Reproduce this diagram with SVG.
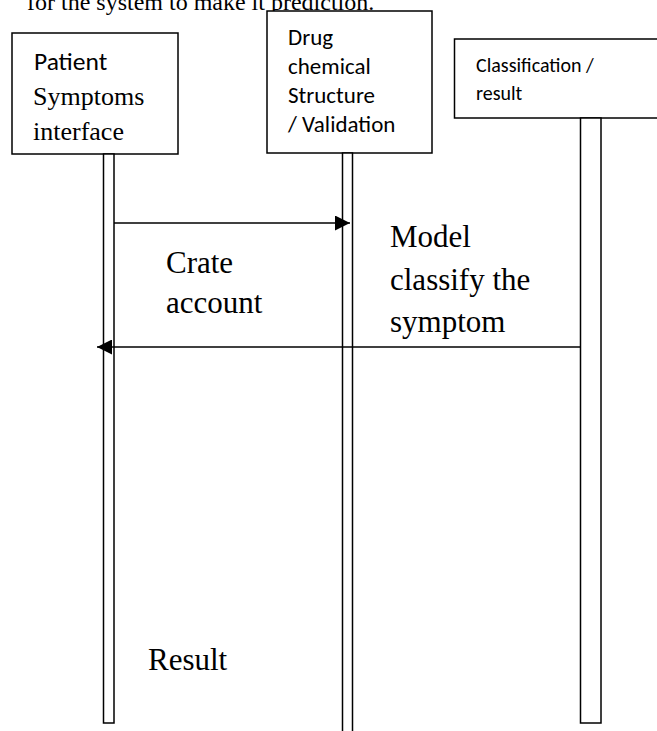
<svg xmlns="http://www.w3.org/2000/svg" width="657" height="731" viewBox="0 0 657 731">
<style>
.box{fill:#fff;stroke:#000;stroke-width:1.5}
.life{fill:#fff;stroke:#000;stroke-width:1.5}
.serif{font-family:"Liberation Serif","Times New Roman",serif;fill:#000}
.sans{font-family:Carlito,Lato,"Liberation Sans",sans-serif;fill:#000}
.msg{stroke:#000;stroke-width:1.5;fill:none}
</style>
<defs>
<marker id="ah" markerWidth="15" markerHeight="15" refX="15" refY="7.5" orient="auto" markerUnits="userSpaceOnUse">
<path d="M0,0 L15,7.5 L0,15 Z" fill="#000"/>
</marker>
</defs>
<rect width="657" height="731" fill="#fff"/>
<text class="serif" x="27" y="10" font-size="24">for the system to make it prediction.</text>
<g id="patient">
<rect class="box" x="12" y="33" width="166" height="121"/>
<text class="sans" x="34" y="70" font-size="25.5">Patient</text>
<text class="serif" x="33" y="105" font-size="26">Symptoms</text>
<text class="serif" x="33" y="140" font-size="26">interface</text>
<rect class="life" x="103.5" y="154" width="10.5" height="569"/>
</g>
<g id="drug">
<rect class="box" x="267" y="11" width="165" height="142"/>
<text class="sans" x="288" y="45" font-size="23">Drug</text>
<text class="sans" x="288" y="74" font-size="23">chemical</text>
<text class="sans" x="288" y="103" font-size="23">Structure</text>
<text class="sans" x="288" y="132" font-size="23">/ Validation</text>
<path class="life" d="M342.5,731 V153 H352.5 V731"/>
</g>
<g id="classification">
<rect class="box" x="454.5" y="39" width="210" height="79"/>
<text class="sans" x="476" y="72" font-size="20">Classification /</text>
<text class="sans" x="476" y="100" font-size="20">result</text>
<rect class="life" x="580.5" y="118" width="20.5" height="605"/>
</g>
<g id="connectors">
<line class="msg" x1="114" y1="223" x2="350" y2="223" marker-end="url(#ah)"/>
<line class="msg" x1="581" y1="347" x2="97" y2="347" marker-end="url(#ah)"/>
</g>
<g id="labels">
<text class="serif" x="166" y="273" font-size="31">Crate</text>
<text class="serif" x="166" y="313" font-size="31">account</text>
<text class="serif" x="390" y="247" font-size="31">Model</text>
<text class="serif" x="390" y="290" font-size="31">classify the</text>
<text class="serif" x="390" y="332" font-size="31">symptom</text>
<text class="serif" x="148" y="670" font-size="31">Result</text>
</g>
</svg>
